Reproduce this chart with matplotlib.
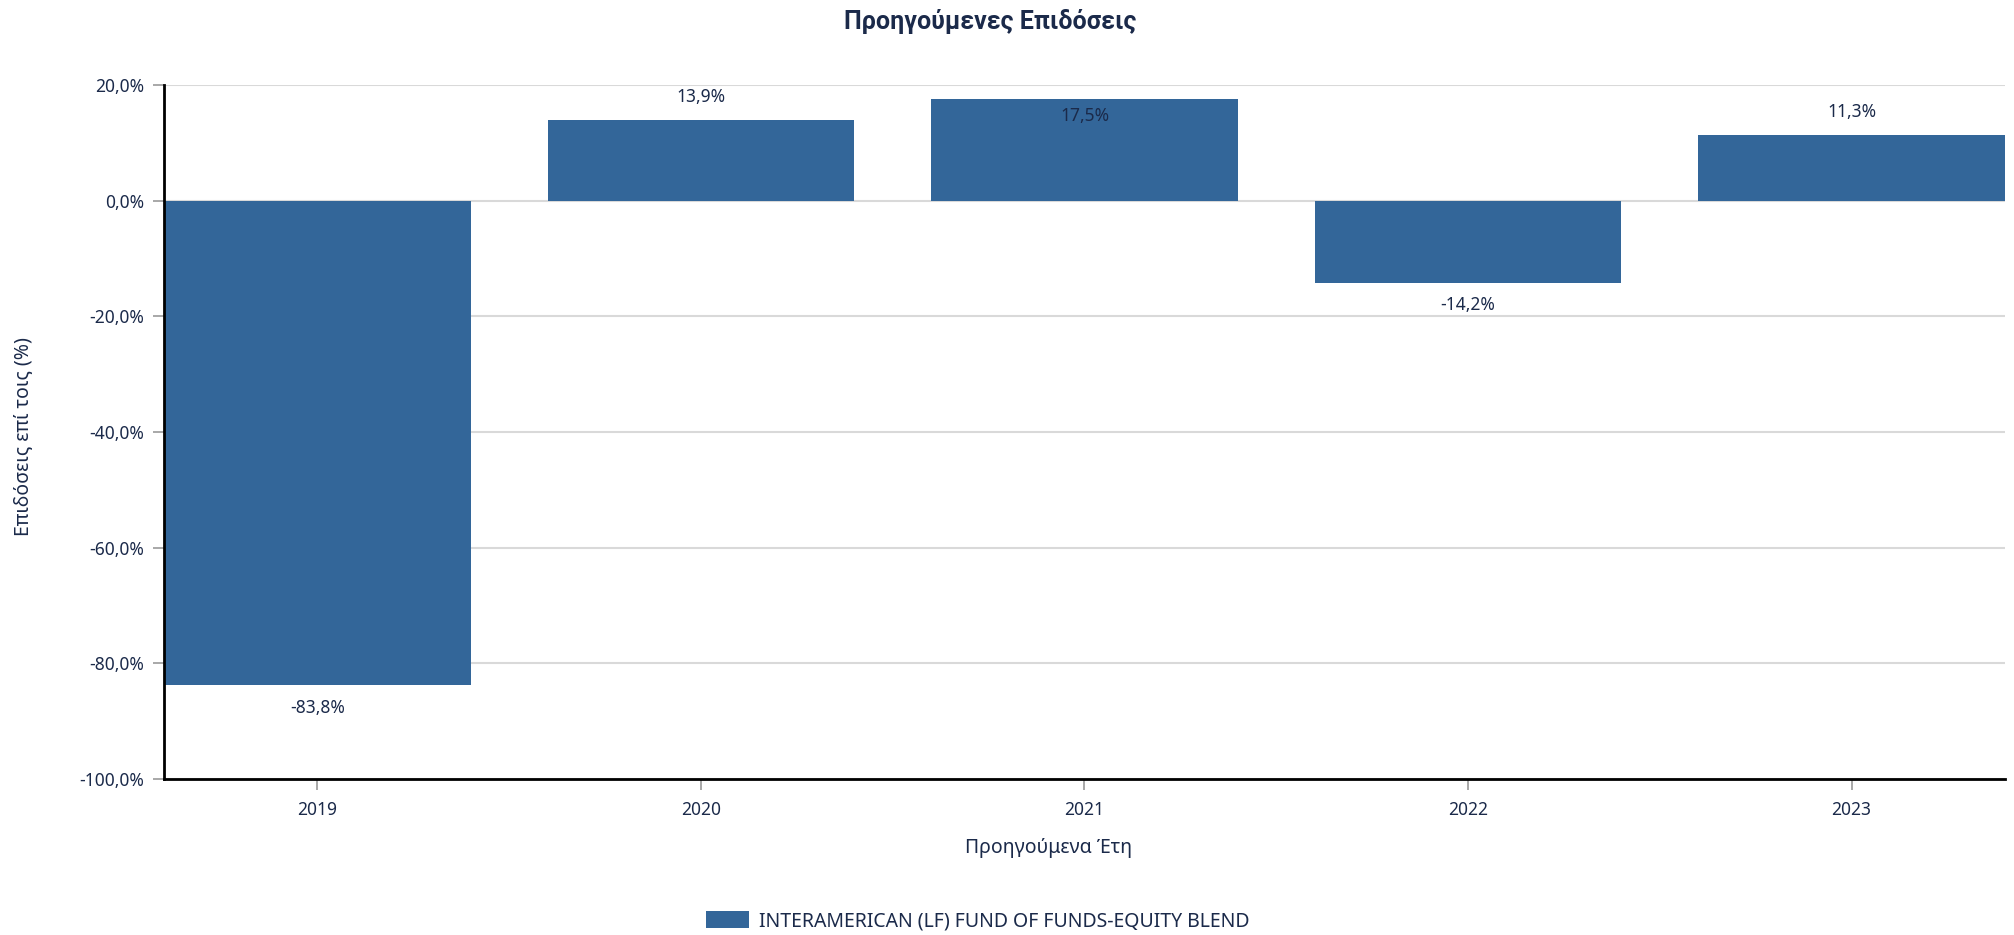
import numpy as np
import matplotlib.pyplot as plt
from matplotlib.patches import Patch

years = ["2019", "2020", "2021", "2022", "2023"]
returns = [-83.8, 13.9, 17.5, -14.2, 11.3]
series_name = "INTERAMERICAN (LF) FUND OF FUNDS-EQUITY BLEND"
title = "Προηγούμενες Επιδόσεις"
xlabel = "Προηγούμενα Έτη"
ylabel = "Επιδόσεις επί τοις (%)"
yticks = [20, 0, -20, -40, -60, -80, -100]

BAR = "#336699"
TXT = "#1b2a4a"
FONT = "Noto Sans"

plt.rcParams['font.family'] = [FONT, 'DejaVu Sans']

def pct(v):
	return ("%.1f%%" % v).replace(".", ",")

fig = plt.figure(figsize=(20.15, 9.35), dpi=100)
ax = fig.add_axes([164/2015, 1 - 779/935, (2005 - 164)/2015, (779 - 85)/935])

x = np.arange(len(years))
ax.bar(x, returns, width=0.8, color=BAR, zorder=3)

ax.set_xlim(-0.4, len(years) - 0.6)
ax.set_ylim(-100, 20)
ax.set_yticks(yticks)
ax.set_yticklabels([pct(v) for v in yticks], color=TXT, fontsize=12.5)
ax.set_xticks(x)
ax.set_xticklabels(years, color=TXT, fontsize=12.5)
ax.yaxis.grid(True, color="#d9d9d9", linewidth=1.5, zorder=0)
ax.tick_params(axis="y", length=8, width=1.2, color="#999999", pad=6)
ax.tick_params(axis="x", length=8, width=1.2, color="#999999", pad=8)

for s in ["top", "right"]:
	ax.spines[s].set_visible(False)
for s in ["left", "bottom"]:
	ax.spines[s].set_linewidth(2)
	ax.spines[s].set_color("black")
	ax.spines[s].set_zorder(4)

# value labels: above/below bar, inside if it would leave the plot
for xi, v in zip(x, returns):
	if v >= 0:
		off = 17 if v + 6 < 20 else -12
	else:
		off = -16
	ax.annotate(pct(v), (xi, v), xytext=(0, off), textcoords="offset points",
				ha="center", va="center", color=TXT, fontsize=12.5, zorder=5)

fig.text(990/2015, 1 - 21/935, title, ha="center", va="center",
		 fontsize=18, fontweight="bold", color=TXT, family=["Roboto", "DejaVu Sans"])
fig.text(1049/2015, 1 - 848/935, xlabel, ha="center", va="center",
		 fontsize=14, color=TXT)
fig.text(23/2015, 1 - 437/935, ylabel, ha="center", va="center",
		 rotation=90, fontsize=14, color=TXT)

leg = fig.legend(handles=[Patch(facecolor=BAR, label=series_name)],
				 loc="center", bbox_to_anchor=(978/2015, 1 - 921/935),
				 frameon=False, fontsize=14, handlelength=2.2, handleheight=1.0,
				 handletextpad=0.5)
for t in leg.get_texts():
	t.set_color(TXT)

fig.savefig("out.png", dpi=100)
